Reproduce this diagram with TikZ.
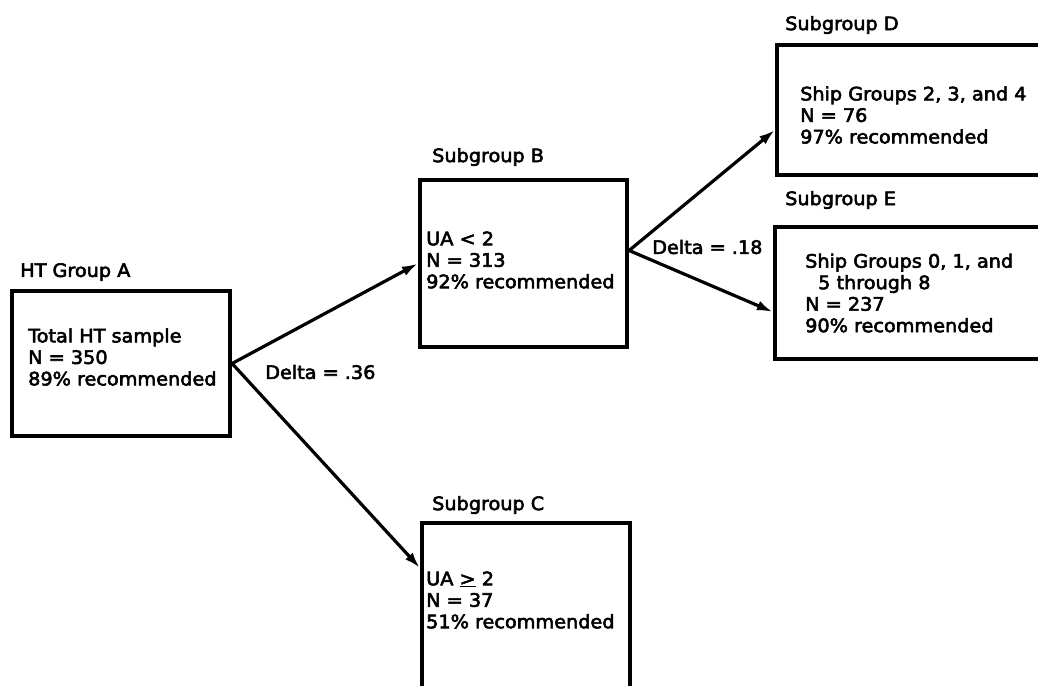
\documentclass[tikz,border=0pt]{standalone}
\usepackage{fontspec}
\setmainfont[FakeStretch=1.04,FakeBold=3]{DejaVu Sans}
\usetikzlibrary{arrows.meta}
\begin{document}
\begin{tikzpicture}[x=1pt,y=-1pt,
  every node/.style={font=\fontsize{18.5}{21.5}\selectfont, inner sep=0pt},
  groupbox/.style={draw, line width=4.2pt, rectangle},
  boxtext/.style={anchor=west, align=left},
  title/.style={anchor=west},
  link/.style={line width=3.2pt, -{Latex[length=16pt,width=10pt]}}]
\clip (0,0) rectangle (1038,685);
\fill[white] (0,0) rectangle (1038,685);

% group boxes
\node[groupbox, minimum width=218pt, minimum height=145pt] (A) at (121,363.5) {};
\node[groupbox, minimum width=207pt, minimum height=167pt] (B) at (523.5,263.5) {};
\node[groupbox, minimum width=208pt, minimum height=170pt] (C) at (526,608) {};
\node[groupbox, minimum width=280pt, minimum height=130pt] (D) at (917,110) {};
\node[groupbox, minimum width=280pt, minimum height=132pt] (E) at (915,293) {};

% box titles
\node[title] (tA) at (20,272) {HT Group A};
\node[title] (tB) at (432,157) {Subgroup B};
\node[title] (tC) at (432,505) {Subgroup C};
\node[title] (tD) at (785,25) {Subgroup D};
\node[title] (tE) at (785,200) {Subgroup E};

% box contents
\node[boxtext] (xA) at (28,357) {Total HT sample\\N = 350\\89\% recommended};
\node[boxtext] (xB) at (426,260) {UA < 2\\N = 313\\92\% recommended};
\node[boxtext] (xC) at (426,600) {UA \underline{>} 2\\N = 37\\51\% recommended};
\node[boxtext] (xD) at (800,115) {Ship Groups 2, 3, and 4\\N = 76\\97\% recommended};
\node[boxtext] (xE) at (805,293) {Ship Groups 0, 1, and\\\hspace*{13pt}5 through 8\\N = 237\\90\% recommended};

% splits
\draw[link] (A.east) -- (B.west);
\draw[link] (A.east) -- ([yshift=-47pt]C.north west);
\draw[link] ([yshift=13pt]B.east) -- ([yshift=-20pt]D.west);
\draw[link] ([yshift=13pt]B.east) -- ([yshift=-19pt]E.west);

% split criteria
\node[title] (dA) at (265,372) {Delta = .36};
\node[title] (dB) at (652,247) {Delta = .18};
\end{tikzpicture}
\end{document}
